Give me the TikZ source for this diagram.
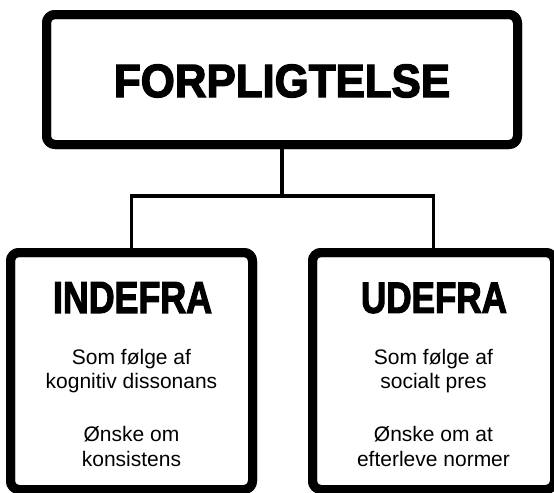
\documentclass[tikz,border=0pt]{standalone}
\usepackage{fontspec}
\setmainfont{Liberation Sans}
\newfontfamily\headfont{Liberation Sans Bold}[FakeBold=3]
\usepackage{graphicx}
\tikzset{
  frame/.style={draw=black, line width=6.75pt, rounded corners=6.4pt, fill=white, inner sep=0pt},
  link/.style={draw=black, line width=2.7pt},
  head/.style={inner sep=0pt, anchor=center},
  body/.style={inner sep=0pt, anchor=base, font=\fontsize{15.75pt}{18.2pt}\selectfont},
}
\begin{document}
\begin{tikzpicture}[x=0.75pt,y=-0.75pt]
\useasboundingbox (0,0) rectangle (554,493);
\fill[white] (0,0) rectangle (554,493);
% connectors
\coordinate (j) at (282,196);
\node[frame, minimum width=353.25pt, minimum height=97.5pt] (top) at (282,79.5) {};
\node[frame, minimum width=181.5pt, minimum height=177.75pt] (left) at (131.5,371) {};
\node[frame, minimum width=181.5pt, minimum height=177.75pt] (right) at (433.5,371) {};
\draw[link] (top.south) -- (j);
\draw[link] (left.north) |- (j) -| (right.north);
% redraw frames on top of connector ends
\node[frame, fill=none, minimum width=353.25pt, minimum height=97.5pt] at (282,79.5) {};
\node[frame, fill=none, minimum width=181.5pt, minimum height=177.75pt] at (131.5,371) {};
\node[frame, fill=none, minimum width=181.5pt, minimum height=177.75pt] at (433.5,371) {};
% headings
\node[head] (t1) at (282,81) {\resizebox{252pt}{24.4pt}{\headfont FORPLIGTELSE}};
\node[head] (t2) at (132.5,297.5) {\resizebox{119.3pt}{23pt}{\headfont INDEFRA}};
\node[head] (t3) at (434,298) {\resizebox{109.5pt}{22.5pt}{\headfont UDEFRA}};
% body texts
\node[body] (a1) at (131.5,364) {Som følge af};
\node[body] (a2) at (131.5,388.5) {kognitiv dissonans};
\node[body] (a3) at (131.5,441.5) {Ønske om};
\node[body] (a4) at (131.5,466.5) {konsistens};
\node[body] (b1) at (433.5,364) {Som følge af};
\node[body] (b2) at (433.5,388.5) {socialt pres};
\node[body] (b3) at (433.5,441.5) {Ønske om at};
\node[body] (b4) at (433.5,466.5) {efterleve normer};
\end{tikzpicture}
\end{document}
